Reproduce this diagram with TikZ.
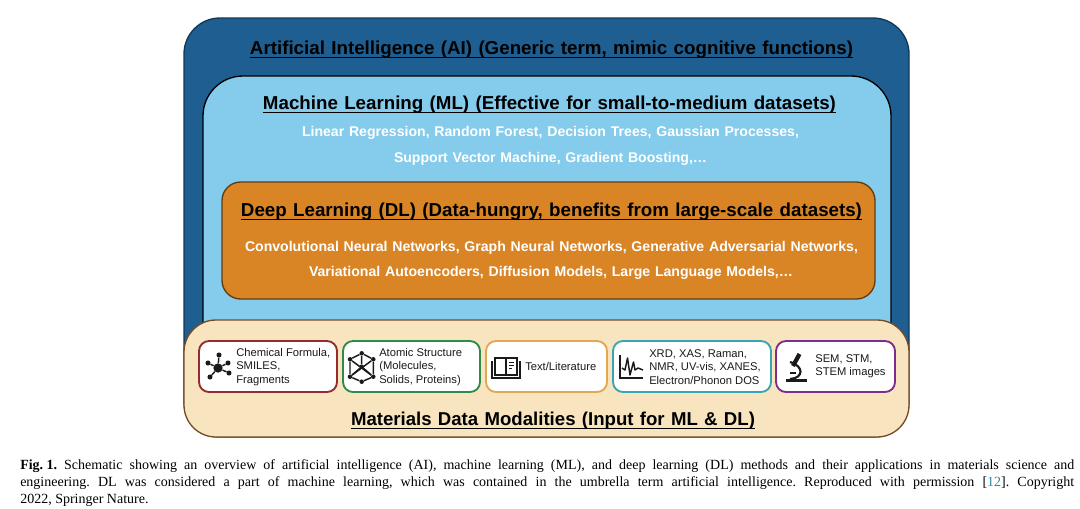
\documentclass[tikz,border=0pt]{standalone}
\usepackage{graphicx}
\usepackage{fontspec}
\setmainfont{Liberation Serif}
\newfontfamily\hv{Liberation Sans}
\newlength{\pxu}\setlength{\pxu}{0.75pt}
\newcommand{\fw}[2]{\resizebox{#1\pxu}{!}{\spaceskip=0.34em\relax #2}}
\definecolor{aiblue}{HTML}{1E5E90}
\definecolor{mlblue}{HTML}{85CBEC}
\definecolor{dlor}{HTML}{D98526}
\definecolor{tanfill}{HTML}{F8E4BE}
\definecolor{cred}{HTML}{962A2E}
\definecolor{cgreen}{HTML}{2E8B4A}
\definecolor{cor}{HTML}{E0A84F}
\definecolor{cteal}{HTML}{37A5B5}
\definecolor{cpur}{HTML}{7B2F8A}
\definecolor{ink}{HTML}{1A1A1A}
\definecolor{refblue}{HTML}{2A8AA8}
\tikzset{
  layerbox/.style={line width=1pt},
  ttl/.style={inner sep=0pt,anchor=base,font=\hv\bfseries\fontsize{12}{12}\selectfont,text=black},
  wht/.style={inner sep=0pt,anchor=center,font=\hv\bfseries\fontsize{10}{10}\selectfont,text=white},
  ulline/.style={line width=0.8pt,black},
  card/.style={line width=1.4pt,fill=white,rounded corners=7.5pt},
  lab/.style={inner sep=0pt,anchor=west,align=left,font=\hv\fontsize{8.4}{10.1}\selectfont,text=ink},
  icon/.style={line width=1.1pt,ink},
  atom/.style={circle,fill=ink,inner sep=0pt,minimum size=3.8pt},
  cubeatom/.style={circle,fill=ink,inner sep=0pt,minimum size=3.4pt},
  captext/.style={inner sep=0pt,anchor=base west,font=\frenchspacing\fontsize{10.5}{11}\selectfont,text=black},
}
\begin{document}
\begin{tikzpicture}[x=0.75pt,y=-0.75pt]
\useasboundingbox (0,0) rectangle (1080,508);
% layers
\draw[layerbox,fill=aiblue,draw=aiblue!60!black,rounded corners=27pt] (184,18) rectangle (909,437);
\draw[layerbox,fill=mlblue,draw=black,rounded corners=30pt] (203,76) rectangle (891,380);
\draw[layerbox,fill=dlor,draw=dlor!45!black,rounded corners=14pt] (222,182) rectangle (875,299);
\draw[layerbox,fill=tanfill,draw=brown!60!black,rounded corners=24pt] (184,320) rectangle (909,437);
% titles
\node[ttl] (aititle) at (551.5,54) {\fw{603}{Artificial Intelligence (AI) (Generic term, mimic cognitive functions)}};
\draw[ulline] ([yshift=-2.6pt]aititle.base west) -- ([yshift=-2.6pt]aititle.base east);
\node[ttl] (mltitle) at (549.5,109) {\fw{573}{Machine Learning (ML) (Effective for small-to-medium datasets)}};
\draw[ulline] ([yshift=-2.6pt]mltitle.base west) -- ([yshift=-2.6pt]mltitle.base east);
\node[wht] (ml1) at (550.5,132.5) {\fw{497}{Linear Regression, Random Forest, Decision Trees, Gaussian Processes,}};
\node[wht] (ml2) at (550.5,158.5) {\fw{313}{Support Vector Machine, Gradient Boosting,\dots}};
\node[ttl] (dltitle) at (551.5,216) {\fw{621}{Deep Learning (DL) (Data-hungry, benefits from large-scale datasets)}};
\draw[ulline] ([yshift=-2.6pt]dltitle.base west) -- ([yshift=-2.6pt]dltitle.base east);
\node[wht] (dl1) at (551.5,247.5) {\fw{613}{Convolutional Neural Networks, Graph Neural Networks, Generative Adversarial Networks,}};
\node[wht] (dl2) at (551,272.5) {\fw{484}{Variational Autoencoders, Diffusion Models, Large Language Models,\dots}};
\node[ttl] (mattitle) at (553,425) {\fw{404}{Materials Data Modalities (Input for ML \& DL)}};
\draw[ulline] ([yshift=-2.6pt]mattitle.base west) -- ([yshift=-2.6pt]mattitle.base east);
% cards
\draw[card,draw=cred] (199,341) rectangle (337,392);
\draw[card,draw=cgreen] (343,341) rectangle (480,392);
\draw[card,draw=cor] (486,341) rectangle (607,392);
\draw[card,draw=cteal] (613,341) rectangle (771,392);
\draw[card,draw=cpur] (776,341) rectangle (895,392);
% labels
\node[lab] (l1) at (236,367) {Chemical Formula,\\SMILES,\\Fragments};
\node[lab] (l2) at (379,367) {Atomic Structure\\(Molecules,\\Solids, Proteins)};
\node[lab] (l3) at (525,366.5) {Text/Literature};
\node[lab] (l4) at (649,367) {XRD, XAS, Raman,\\NMR, UV-vis, XANES,\\Electron/Phonon DOS};
\node[lab] (l5) at (815,366.5) {SEM, STM,\\STEM images};
% molecule icon
\node[atom,minimum size=7pt] (m0) at (218,368) {};
\node[atom] (m1) at (219,355) {};
\node[atom] (m2) at (208,363) {};
\node[atom] (m3) at (210,377) {};
\node[atom] (m4) at (228,363) {};
\node[atom] (m5) at (229,373) {};
\draw[icon] (m0)--(m1) (m0)--(m2) (m0)--(m3) (m0)--(m4) (m0)--(m5);
% cube icon
\node[cubeatom] (c0) at (361.7,366.7) {};
\node[cubeatom] (c1) at (361.7,353.3) {};
\node[cubeatom] (c2) at (373.3,359.3) {};
\node[cubeatom] (c3) at (373.3,376.7) {};
\node[cubeatom] (c4) at (361.7,381.7) {};
\node[cubeatom] (c5) at (350,376.7) {};
\node[cubeatom] (c6) at (350,359.3) {};
\draw[icon] (c1)--(c2)--(c3)--(c4)--(c5)--(c6)--(c1);
\draw[icon] (c0)--(c1) (c0)--(c3) (c0)--(c5) (c6)--(c3) (c2)--(c5);
% book icon
\draw[icon] (506,358) -- (506,375) (506,358) -- (495,358) -- (495,375) -- (506,375) -- (517,375) -- (517,358) -- (506,358);
\draw[icon] (492,361) -- (492,378) -- (520,378) -- (520,361);
\draw[line width=0.6pt,ink] (509,362) -- (514,362) (509,365) -- (514,365) (509,368) -- (512,368);
% spectrum icon
\draw[icon] (620,355) -- (620,378) -- (643,378);
\draw[icon,line join=round] (622,368) -- (625,370) -- (627.5,358) -- (630,375) -- (633.5,362) -- (635,370) -- (638,368) -- (643,370);
% microscope icon
\draw[line width=3.2pt,ink] (799.5,354) -- (793,366);
\draw[line width=1.6pt,ink] (790,362) .. controls (804,366) and (804,378) .. (790,379);
\draw[line width=1.5pt,ink] (790,373) -- (796,373);
\draw[line width=2.2pt,ink] (785.5,380.5) -- (806.5,380.5);
% caption
\node[captext] (c1l) at (20,469) {\makebox[790.5pt][s]{\mbox{\textbf{Fig.\kern0.25em 1.}\kern0.5em}Schematic showing an overview of artificial intelligence (AI), machine learning (ML), and deep learning (DL) methods and their applications in materials science and}};
\node[captext] (c2l) at (20,486) {\makebox[790.5pt][s]{engineering. DL was considered a part of machine learning, which was contained in the umbrella term artificial intelligence. Reproduced with permission [\textcolor{refblue}{12}]. Copyright}};
\node[captext] (c3l) at (20,503) {2022, Springer Nature.};
\end{tikzpicture}
\end{document}
